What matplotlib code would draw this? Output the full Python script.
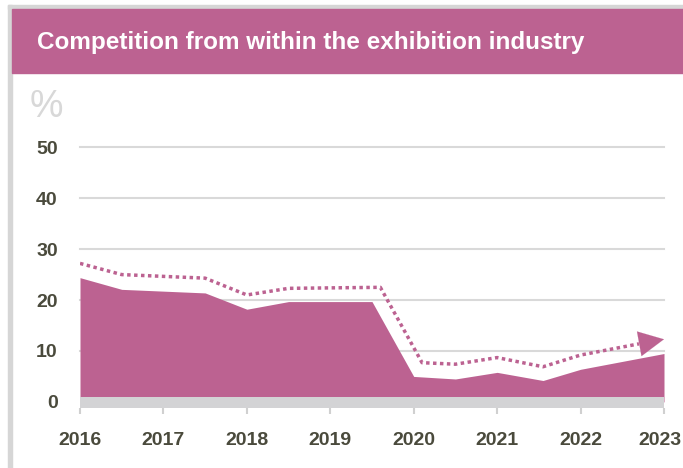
import matplotlib
matplotlib.use('Agg')
import matplotlib.pyplot as plt
import matplotlib.transforms as mtransforms
from matplotlib.patches import Rectangle

plt.rcParams['font.family'] = ['Liberation Sans', 'DejaVu Sans']

# dados
anos = [2016, 2017, 2018, 2019, 2020, 2021, 2022, 2023]
area_x = [2016, 2016.5, 2017.5, 2018, 2018.5, 2019.5, 2020, 2020.5, 2021, 2021.55, 2022, 2023]
area_y = [24.4, 22.1, 21.4, 18.2, 19.7, 19.7, 5.0, 4.5, 5.8, 4.2, 6.4, 9.5]
linha_x = [2016, 2016.5, 2017.5, 2018, 2018.5, 2019.6, 2020.1, 2020.5, 2021, 2021.55, 2022, 2022.7]
linha_y = [27.2, 25.0, 24.3, 21.0, 22.3, 22.5, 7.7, 7.4, 8.7, 6.9, 9.2, 11.4]
seta_fim = (2023, 12.3)
y_ticks = [0, 10, 20, 30, 40, 50]
titulo = "Competition from within the exhibition industry"

magenta = '#bc6291'
cinza = '#d3d3d5'
texto = '#4a4a3c'

W, H = 683, 468
fig = plt.figure(figsize=(W / 100, H / 100), dpi=100)

# moldura e faixa do título
fig.patches.append(Rectangle((8 / W, 0), 4 / W, 1 - 5 / H, transform=fig.transFigure,
                             color='#d6d6d6', zorder=0))
fig.patches.append(Rectangle((8 / W, 1 - 9 / H), 1, 4 / H, transform=fig.transFigure,
                             color='#d6d6d6', zorder=0))
fig.patches.append(Rectangle((12 / W, 1 - 73 / H), 1, 64 / H, transform=fig.transFigure,
                             color=magenta, zorder=1))
fig.text(37 / W, 1 - 43 / H, titulo, color='white', fontsize=17.5, fontweight='bold',
         va='center', ha='left')
fig.text(30 / W, 1 - 107 / H, '%', color='#d8d8d8', fontsize=27, va='center', ha='left')

ax = fig.add_axes([80 / W, 1 - 408 / H, 584 / W, 260.7 / H])
ax.set_xlim(2016, 2023)
ax.set_ylim(-1.2, 50)

for v in y_ticks[1:]:
    ax.axhline(v, color='#d9d9d9', lw=1.5, zorder=1, clip_on=False)

ax.fill_between(area_x, 0, area_y, color=magenta, lw=0, zorder=2)
ax.add_patch(Rectangle((2016, -1.2), 7, 2.2, color=cinza, lw=0, zorder=3))

ax.plot(linha_x, linha_y, color=magenta, lw=2.5, ls=(0, (1, 1)), zorder=4,
        solid_capstyle='butt')
ax.annotate('', xy=seta_fim, xytext=(linha_x[-1], linha_y[-1]),
            arrowprops=dict(arrowstyle='-|>,head_length=0.9,head_width=0.45',
                            mutation_scale=20, color=magenta, lw=0.1,
                            shrinkA=0, shrinkB=0), zorder=5)

for s in ax.spines.values():
    s.set_visible(False)

ax.set_xticks(anos)
ax.set_xticklabels([str(a) for a in anos])
ax.set_yticks(y_ticks)
ax.set_yticklabels([str(v) for v in y_ticks])
ax.tick_params(axis='x', length=4, width=1.5, color='#d0d0d0', pad=13,
               labelsize=14, labelcolor=texto)
ax.tick_params(axis='y', length=0, pad=16, labelsize=14, labelcolor=texto)
for lb in ax.get_xticklabels() + ax.get_yticklabels():
    lb.set_fontweight('bold')

# último rótulo encostado na borda: puxa um pouco para dentro
ultimo = ax.get_xticklabels()[-1]
ultimo.set_transform(ultimo.get_transform() +
                     mtransforms.ScaledTranslation(-4 / 100, 0, fig.dpi_scale_trans))

fig.savefig('out.png', dpi=100)
plt.close(fig)
